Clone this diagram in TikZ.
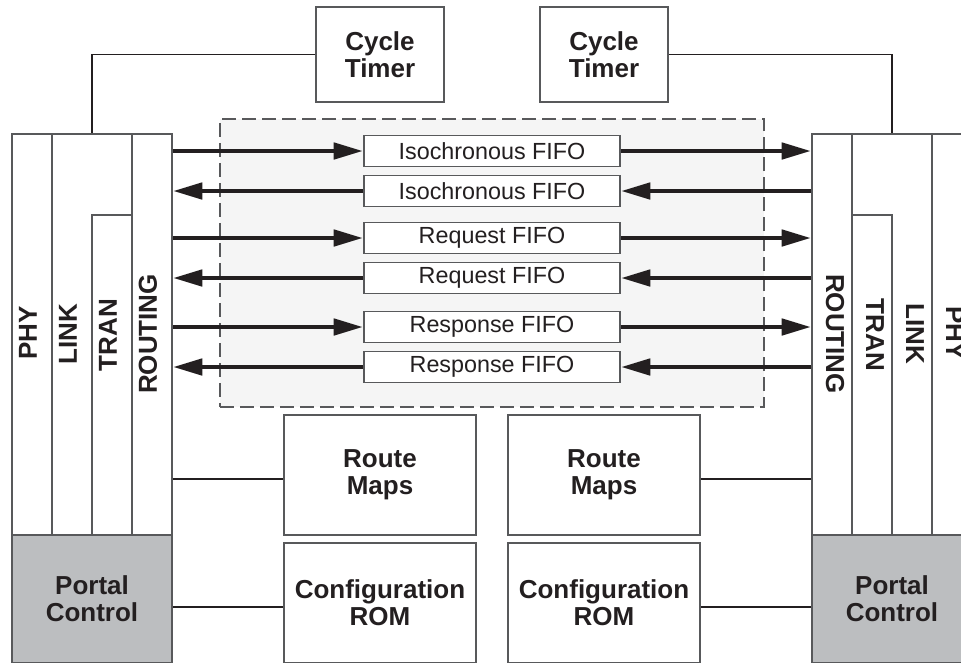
\documentclass[tikz,border=0pt]{standalone}
\usepackage{fontspec}
\setmainfont{Liberation Sans}
\usetikzlibrary{arrows.meta,calc}
\definecolor{ink}{HTML}{231F20}
\definecolor{edge}{HTML}{58595B}
\definecolor{portal}{HTML}{BCBEC0}
\definecolor{shade}{HTML}{F5F5F5}

\begin{document}
\begin{tikzpicture}[x=0.75pt,y=-0.75pt,
  box/.style={draw=edge,line width=1.4pt,rectangle,inner sep=0pt,
    font=\bfseries\fontsize{19.5}{20.5}\selectfont,text=ink,align=center},
  column/.style={box,minimum width=30pt,minimum height=300.75pt},
  layer/.style={inner sep=0pt,font=\bfseries\fontsize{19.5}{20.5}\selectfont,text=ink},
  fifo/.style={draw=edge,line width=1.4pt,fill=white,rectangle,inner sep=0pt,
    minimum width=192pt,minimum height=23.25pt,
    font=\fontsize{17.5}{18}\selectfont,text=ink},
  flow/.style={draw=ink,line width=3.5pt,-{Triangle[length=22pt,width=12pt]}},
  wire/.style={draw=ink,line width=1.4pt},
]
\useasboundingbox (0,0) rectangle (961,662);
\clip (0,0) rectangle (961,662);

% shaded FIFO area
\node[draw=edge,line width=1.2pt,fill=shade,dash pattern=on 10.5pt off 4.5pt,
  minimum width=408pt,minimum height=216pt,inner sep=0pt] (area) at (492,263) {};

% left protocol stack
\node[column] (phyL) at (32,334.5) {};
\node[box,minimum width=60pt,minimum height=300.75pt] (linkL) at (92,334.5) {};
\node[box,minimum width=30pt,minimum height=240pt] (tranL) at (112,375) {};
\node[column] (routingL) at (152,334.5) {};
\node[box,fill=portal,minimum width=120pt,minimum height=96pt] (portalL) at (92,599) {Portal\\Control};
\node[layer,rotate=90] (phyLtxt) at (28,333) {PHY};
\node[layer,rotate=90] (linkLtxt) at (68,334) {LINK};
\node[layer,rotate=90] (tranLtxt) at (108,335) {TRAN};
\node[layer,rotate=90] (routingLtxt) at (148,334) {ROUTING};

% right protocol stack
\node[column] (phyR) at (952,334.5) {};
\node[box,minimum width=60pt,minimum height=300.75pt] (linkR) at (892,334.5) {};
\node[box,minimum width=30pt,minimum height=240pt] (tranR) at (872,375) {};
\node[column] (routingR) at (832,334.5) {};
\node[box,fill=portal,minimum width=120pt,minimum height=96pt] (portalR) at (892,599) {Portal\\Control};
\node[layer,rotate=-90] (phyRtxt) at (955,333) {PHY};
\node[layer,rotate=-90] (linkRtxt) at (915,334) {LINK};
\node[layer,rotate=-90] (tranRtxt) at (875,335) {TRAN};
\node[layer,rotate=-90] (routingRtxt) at (835,334) {ROUTING};

% cycle timers
\node[box,minimum width=96pt,minimum height=71.25pt] (ctL) at (380,54.5) {Cycle\\Timer};
\node[box,minimum width=96pt,minimum height=71.25pt] (ctR) at (604,54.5) {Cycle\\Timer};
\draw[wire] (ctL.west) -| (linkL.north);
\draw[wire] (ctR.east) -| (linkR.north);

% FIFOs
\node[fifo] (isoA) at (492,151) {Isochronous FIFO};
\node[fifo] (isoB) at (492,191) {Isochronous FIFO};
\node[fifo] (reqA) at (492,238) {Request FIFO};
\node[fifo] (reqB) at (492,278) {Request FIFO};
\node[fifo] (rspA) at (492,327) {Response FIFO};
\node[fifo] (rspB) at (492,367) {Response FIFO};

% left-to-right traffic
\foreach \f in {isoA,reqA,rspA}{
  \draw[flow] (routingL.east |- \f.west) -- (\f.west);
  \draw[flow] (\f.east) -- (routingR.west |- \f.east);
}
% right-to-left traffic
\foreach \f in {isoB,reqB,rspB}{
  \draw[flow] (routingR.west |- \f.east) -- (\f.east);
  \draw[flow] (\f.west) -- (routingL.east |- \f.west);
}

% route maps and configuration ROMs
\node[box,minimum width=144pt,minimum height=90pt] (rmL) at (380,475) {Route\\Maps};
\node[box,minimum width=144pt,minimum height=90pt] (rmR) at (604,475) {Route\\Maps};
\node[box,minimum width=144pt,minimum height=90pt] (cfgL) at (380,603) {Configuration\\ROM};
\node[box,minimum width=144pt,minimum height=90pt] (cfgR) at (604,603) {Configuration\\ROM};

\coordinate (rmLin) at ([yshift=-3pt]rmL.west);
\coordinate (rmRin) at ([yshift=-3pt]rmR.east);
\coordinate (cfgLin) at ([yshift=-3pt]cfgL.west);
\coordinate (cfgRin) at ([yshift=-3pt]cfgR.east);
\draw[wire] (routingL.east |- rmLin) -- (rmLin);
\draw[wire] (routingR.west |- rmRin) -- (rmRin);
\draw[wire] (routingL.east |- cfgLin) -- (cfgLin);
\draw[wire] (routingR.west |- cfgRin) -- (cfgRin);
\end{tikzpicture}
\end{document}
